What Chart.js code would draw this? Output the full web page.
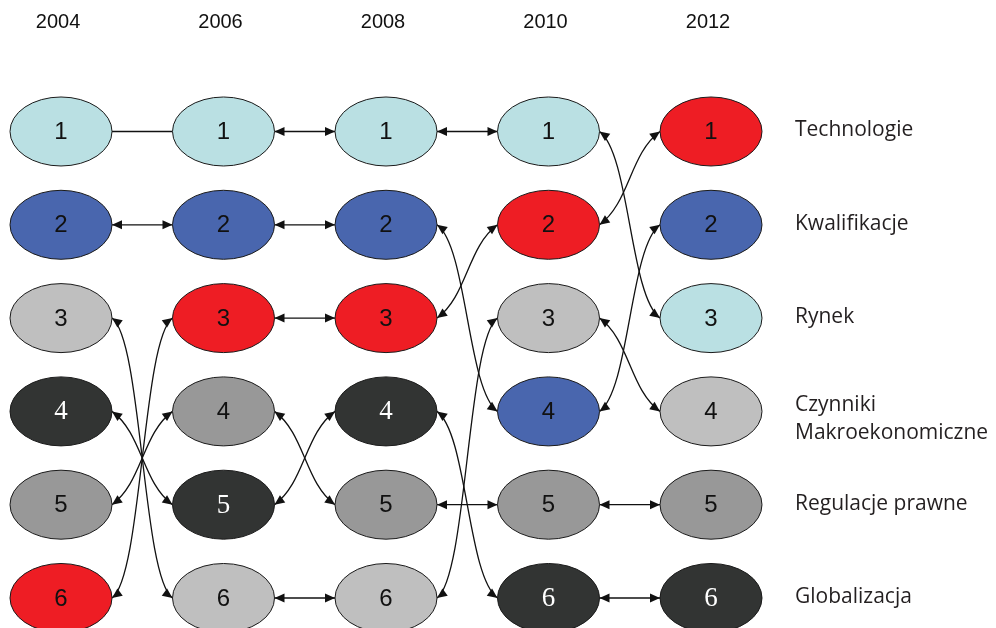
<!DOCTYPE html>
<html>
<head>
<meta charset="utf-8">
<script src="https://cdn.jsdelivr.net/npm/chart.js@4.4.1/dist/chart.umd.min.js"></script>
<style>
  html, body { margin: 0; padding: 0; background: #fff; }
  #wrap { width: 996px; height: 628px; }
</style>
</head>
<body>
<div id="wrap"><canvas id="ranking" width="996" height="628"></canvas></div>
<script>
// Lata (kolumny)
const lata = [2004, 2006, 2008, 2010, 2012];

// Etykiety wierszy po prawej
const etykietyWierszy = ['Technologie', 'Kwalifikacje', 'Rynek', 'Czynniki\nMakroekonomiczne', 'Regulacje prawne', 'Globalizacja'];

// Pozycja (ranga) kazdego czynnika w kolejnych latach
const rangaTechnologie = [1, 1, 1, 1, 3];
const rangaKwalifikacje = [2, 2, 2, 4, 2];
const rangaRynek = [3, 6, 6, 3, 4];
const rangaMakro = [4, 5, 4, 6, 6];
const rangaRegulacje = [5, 4, 5, 5, 5];
const rangaGlobalizacja = [6, 3, 3, 2, 1];

// Polaczenia bez strzalek: [czynnik, indeks roku poczatkowego]
const liniebezStrzalek = [['Technologie', 0]];

const czynniki = [
    { nazwa: 'Technologie', rangi: rangaTechnologie, kolor: '#bae0e3', tekst: '#111', serif: false },
    { nazwa: 'Kwalifikacje', rangi: rangaKwalifikacje, kolor: '#4966ae', tekst: '#111', serif: false },
    { nazwa: 'Rynek', rangi: rangaRynek, kolor: '#bfbfbf', tekst: '#111', serif: false },
    { nazwa: 'Makro', rangi: rangaMakro, kolor: '#323433', tekst: '#fff', serif: true },
    { nazwa: 'Regulacje', rangi: rangaRegulacje, kolor: '#989898', tekst: '#111', serif: false },
    { nazwa: 'Globalizacja', rangi: rangaGlobalizacja, kolor: '#ee1d24', tekst: '#111', serif: false }
];

const RX = 51, RY = 34.5;

function grot(ctx, x, y, ang) {
    // ang - kierunek, w ktory wskazuje grot
    const L = 10, W = 4.5;
    ctx.beginPath();
    ctx.moveTo(x, y);
    ctx.lineTo(x - L * Math.cos(ang) + W * Math.sin(ang), y - L * Math.sin(ang) - W * Math.cos(ang));
    ctx.lineTo(x - L * Math.cos(ang) - W * Math.sin(ang), y - L * Math.sin(ang) + W * Math.cos(ang));
    ctx.closePath();
    ctx.fill();
}

const pluginRanking = {
    id: 'ranking',
    afterDatasetsDraw(chart) {
        const ctx = chart.ctx;
        const xs = chart.scales.x, ys = chart.scales.y;
        ctx.save();

        // Polaczenia
        ctx.strokeStyle = '#111';
        ctx.fillStyle = '#111';
        ctx.lineWidth = 1.3;
        chart.data.datasets.forEach((ds, di) => {
            const meta = chart.getDatasetMeta(di);
            for (let i = 0; i < meta.data.length - 1; i++) {
                const a = meta.data[i], b = meta.data[i + 1];
                const x1 = a.x + RX, y1 = a.y, x2 = b.x - RX, y2 = b.y;
                const bez = liniebezStrzalek.some(l => l[0] === czynniki[di].nazwa && l[1] === i);
                ctx.beginPath();
                ctx.moveTo(x1, y1);
                let a1 = Math.PI, a2 = 0;
                if (Math.abs(y2 - y1) < 1) {
                    ctx.lineTo(x2, y2);
                } else {
                    const xm = (x1 + x2) / 2;
                    const k = Math.sign(y2 - y1) * 22;
                    const c1x = xm, c1y = y1 + k, c2x = xm, c2y = y2 - k;
                    ctx.bezierCurveTo(c1x, c1y, c2x, c2y, x2, y2);
                    a1 = Math.atan2(y1 - c1y, x1 - c1x);
                    a2 = Math.atan2(y2 - c2y, x2 - c2x);
                }
                ctx.stroke();
                if (!bez) {
                    grot(ctx, x1, y1, a1);
                    grot(ctx, x2, y2, a2);
                }
            }
        });

        // Elipsy z numerami
        chart.data.datasets.forEach((ds, di) => {
            const meta = chart.getDatasetMeta(di);
            const cz = czynniki[di];
            meta.data.forEach((p, i) => {
                ctx.beginPath();
                ctx.ellipse(p.x, p.y, RX, RY, 0, 0, Math.PI * 2);
                ctx.fillStyle = cz.kolor;
                ctx.fill();
                ctx.lineWidth = 1;
                ctx.strokeStyle = '#1a1a1a';
                ctx.stroke();
                ctx.fillStyle = cz.tekst;
                ctx.font = cz.serif ? '27px "Liberation Serif"' : '24px "Liberation Sans"';
                ctx.textAlign = 'center';
                ctx.textBaseline = 'middle';
                ctx.fillText(String(ds.data[i].y), p.x, p.y + 1);
            });
        });

        // Lata u gory
        ctx.fillStyle = '#111';
        ctx.font = '20px "Liberation Sans"';
        ctx.textAlign = 'center';
        ctx.textBaseline = 'middle';
        lata.forEach(r => {
            ctx.fillText(String(r), xs.getPixelForValue(r) - 3, ys.getPixelForValue(-0.165));
        });

        // Etykiety wierszy
        ctx.fillStyle = '#231f20';
        ctx.font = '21px "Open Sans"';
        ctx.textAlign = 'left';
        const xl = xs.getPixelForValue(lata[lata.length - 1]) + 84;
        etykietyWierszy.forEach((t, i) => {
            const y = ys.getPixelForValue(i + 1);
            const linie = t.split('\n');
            if (linie.length === 1) {
                ctx.fillText(t, xl, y - 1);
            } else {
                ctx.fillText(linie[0], xl, y - 6);
                ctx.fillText(linie[1], xl, y + 22);
            }
        });
        ctx.restore();
    }
};

const canvas = document.getElementById('ranking');
new Chart(canvas, {
    type: 'scatter',
    data: {
        datasets: czynniki.map(cz => ({
            label: cz.nazwa,
            data: lata.map((r, i) => ({ x: r, y: cz.rangi[i] })),
            pointRadius: 0,
            pointHoverRadius: 0,
            showLine: false
        }))
    },
    options: {
        responsive: false,
        animation: false,
        layout: { padding: 0 },
        plugins: { legend: { display: false }, tooltip: { enabled: false } },
        scales: {
            x: { type: 'linear', min: 2003.2492, max: 2015.5077, display: false },
            y: { type: 'linear', reverse: true, min: -0.4094, max: 6.3216, display: false }
        }
    },
    plugins: [pluginRanking]
});
</script>
</body>
</html>
